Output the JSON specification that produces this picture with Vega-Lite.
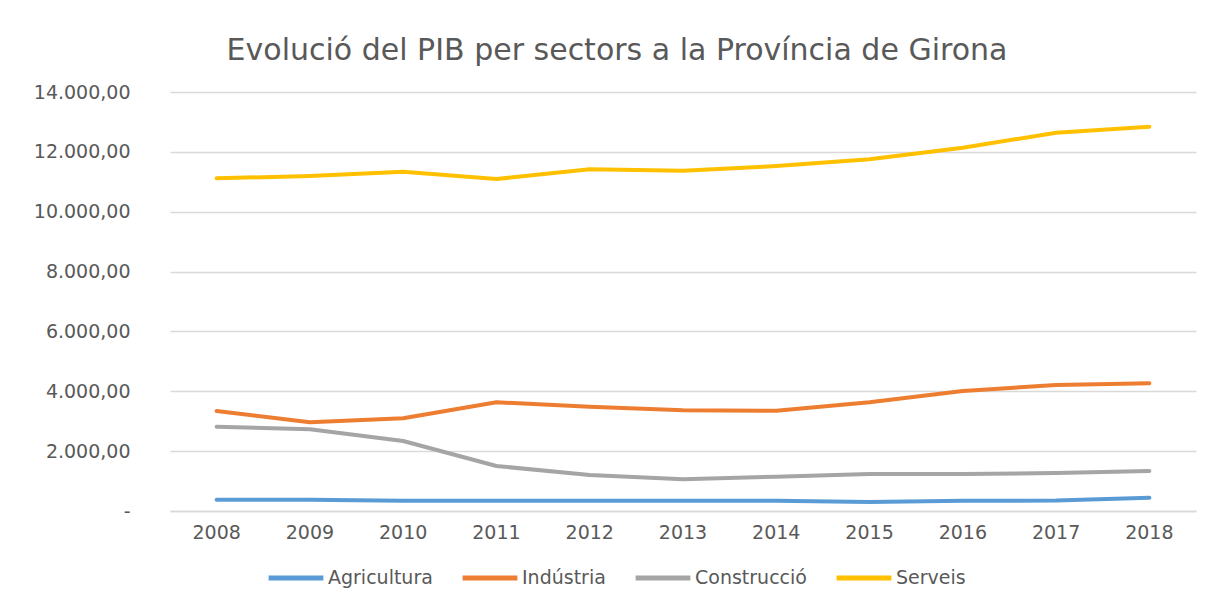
{
  "$schema": "https://vega.github.io/schema/vega-lite/v6.json",
  "autosize": "none",
  "width": 1026,
  "height": 419,
  "padding": {"left": 170, "top": 92, "right": 16, "bottom": 91},
  "background": "white",
  "config": {
    "locale": {"number": {"decimal": ",", "thousands": ".", "grouping": [3], "currency": ["", " €"]}},
    "font": "DejaVu Sans",
    "view": {"stroke": null}
  },
  "title": {
    "text": "Evolució del PIB per sectors a la Província de Girona",
    "fontSize": 30,
    "fontWeight": "normal",
    "color": "#595959",
    "anchor": "middle",
    "dx": -66,
    "offset": 17
  },
  "data": {
    "values": [
      {"any": "2008", "sector": "Agricultura", "valor": 378},
      {"any": "2009", "sector": "Agricultura", "valor": 375},
      {"any": "2010", "sector": "Agricultura", "valor": 345},
      {"any": "2011", "sector": "Agricultura", "valor": 345},
      {"any": "2012", "sector": "Agricultura", "valor": 345},
      {"any": "2013", "sector": "Agricultura", "valor": 345},
      {"any": "2014", "sector": "Agricultura", "valor": 345},
      {"any": "2015", "sector": "Agricultura", "valor": 300},
      {"any": "2016", "sector": "Agricultura", "valor": 340},
      {"any": "2017", "sector": "Agricultura", "valor": 350},
      {"any": "2018", "sector": "Agricultura", "valor": 445},
      {"any": "2008", "sector": "Indústria", "valor": 3341},
      {"any": "2009", "sector": "Indústria", "valor": 2963},
      {"any": "2010", "sector": "Indústria", "valor": 3097},
      {"any": "2011", "sector": "Indústria", "valor": 3632},
      {"any": "2012", "sector": "Indústria", "valor": 3485},
      {"any": "2013", "sector": "Indústria", "valor": 3364},
      {"any": "2014", "sector": "Indústria", "valor": 3351},
      {"any": "2015", "sector": "Indústria", "valor": 3632},
      {"any": "2016", "sector": "Indústria", "valor": 4009},
      {"any": "2017", "sector": "Indústria", "valor": 4210},
      {"any": "2018", "sector": "Indústria", "valor": 4266},
      {"any": "2008", "sector": "Construcció", "valor": 2817},
      {"any": "2009", "sector": "Construcció", "valor": 2730},
      {"any": "2010", "sector": "Construcció", "valor": 2339},
      {"any": "2011", "sector": "Construcció", "valor": 1503},
      {"any": "2012", "sector": "Construcció", "valor": 1203},
      {"any": "2013", "sector": "Construcció", "valor": 1058},
      {"any": "2014", "sector": "Construcció", "valor": 1147},
      {"any": "2015", "sector": "Construcció", "valor": 1236},
      {"any": "2016", "sector": "Construcció", "valor": 1236},
      {"any": "2017", "sector": "Construcció", "valor": 1270},
      {"any": "2018", "sector": "Construcció", "valor": 1336},
      {"any": "2008", "sector": "Serveis", "valor": 11116},
      {"any": "2009", "sector": "Serveis", "valor": 11193},
      {"any": "2010", "sector": "Serveis", "valor": 11336},
      {"any": "2011", "sector": "Serveis", "valor": 11092},
      {"any": "2012", "sector": "Serveis", "valor": 11416},
      {"any": "2013", "sector": "Serveis", "valor": 11370},
      {"any": "2014", "sector": "Serveis", "valor": 11527},
      {"any": "2015", "sector": "Serveis", "valor": 11750},
      {"any": "2016", "sector": "Serveis", "valor": 12138},
      {"any": "2017", "sector": "Serveis", "valor": 12640},
      {"any": "2018", "sector": "Serveis", "valor": 12840}
    ]
  },
  "mark": {"type": "line", "strokeWidth": 4, "strokeCap": "round", "strokeJoin": "round"},
  "encoding": {
    "x": {
      "field": "any",
      "type": "ordinal",
      "scale": {"type": "band", "paddingInner": 0, "paddingOuter": 0},
      "axis": {
        "title": null,
        "labelAngle": 0,
        "labelFontSize": 19,
        "labelColor": "#595959",
        "labelPadding": 12,
        "ticks": false,
        "domain": true,
        "domainColor": "#D9D9D9",
        "domainWidth": 1.5,
        "grid": false
      }
    },
    "y": {
      "field": "valor",
      "type": "quantitative",
      "scale": {"domain": [0, 14000], "nice": false},
      "axis": {
        "title": null,
        "values": [0, 2000, 4000, 6000, 8000, 10000, 12000, 14000],
        "labelExpr": "datum.value == 0 ? '-\u00a0\u00a0\u00a0\u00a0' : format(datum.value, ',.2f')",
        "labelFontSize": 19,
        "labelColor": "#595959",
        "labelPadding": 40,
        "ticks": false,
        "domain": false,
        "gridColor": "#D9D9D9",
        "gridWidth": 1.5
      }
    },
    "color": {
      "field": "sector",
      "type": "nominal",
      "sort": ["Agricultura", "Indústria", "Construcció", "Serveis"],
      "scale": {
        "domain": ["Agricultura", "Indústria", "Construcció", "Serveis"],
        "range": ["#5B9BD5", "#ED7D31", "#A5A5A5", "#FFC000"]
      },
      "legend": {
        "title": null,
        "orient": "none",
        "direction": "horizontal",
        "legendX": 96,
        "legendY": 456,
        "symbolType": "stroke",
        "symbolSize": 3000,
        "symbolStrokeWidth": 5,
        "labelFontSize": 19,
        "labelColor": "#595959",
        "labelOffset": 2,
        "columnPadding": 19
      }
    }
  }
}
